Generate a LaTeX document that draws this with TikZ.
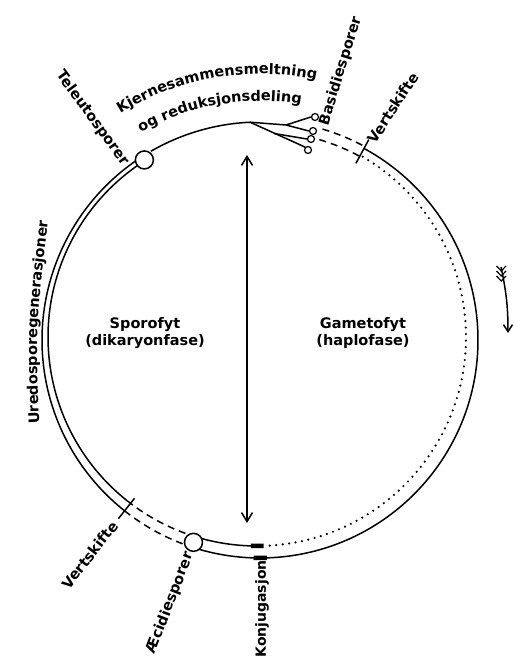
\documentclass[tikz,border=0pt]{standalone}
\usepackage{fontspec}
\setmainfont{DejaVu Sans}
\usetikzlibrary{arrows.meta,decorations.text}
\tikzset{barb/.tip={Straight Barb[length=9pt,width=11pt]},
  sbarb/.tip={Straight Barb[length=7pt,width=9pt]}}
\newcommand{\labfont}{\bfseries\fontsize{14.5}{17}\selectfont}
\begin{document}
\begin{tikzpicture}[x=1pt,y=1pt,
  line/.style={line width=1.5pt},
  dashline/.style={line width=1.5pt, dash pattern=on 7pt off 5pt},
  dotline/.style={line width=2.4pt, line cap=round, dash pattern=on 0pt off 6.5pt},
  spore/.style={circle, draw, line width=1.5pt, fill=white, minimum size=18pt, inner sep=0pt},
  basid/.style={circle, draw, line width=1.2pt, fill=white, minimum size=7pt, inner sep=0pt},
  lab/.style={font=\labfont, inner sep=0pt},
  bar/.style={line width=4.5pt},
]
\useasboundingbox (0,0) rectangle (514,657);
\coordinate (O) at (260,317);
\coordinate (I) at (257,320);

% sporophyte: double line on the left
\draw[line] (O) ++(122:218) arc[start angle=122, end angle=231.6, radius=218];
\draw[line] (I) ++(122:209) arc[start angle=122, end angle=231.6, radius=209];
% host change, lower left
\draw[line] (O) ++(231.6:202) -- ++(231.6:26);
\draw[dashline] (O) ++(231.6:218) arc[start angle=231.6, end angle=251.8, radius=218];
\draw[dashline] (I) ++(231.6:209) arc[start angle=231.6, end angle=251.8, radius=209];
% aecidiospores to conjugation
\draw[line] (O) ++(251.8:218) arc[start angle=251.8, end angle=268.5, radius=218];
\draw[line] (I) ++(251.8:209) arc[start angle=251.8, end angle=268.5, radius=209];
\draw[bar] (O) ++(268.3:218) arc[start angle=268.3, end angle=271.8, radius=218];
\draw[bar] (I) ++(268.3:209) arc[start angle=268.3, end angle=271.8, radius=209];
% gametophyte: solid outer, dotted inner
\draw[line] (O) ++(271.8:218) arc[start angle=271.8, end angle=421.5, radius=218];
\draw[dotline] (I) ++(273.5:209) arc[start angle=273.5, end angle=420.5, radius=209];
% host change, upper right
\draw[line] (O) ++(61.5:201) -- ++(61.5:27);
\draw[dashline] (O) ++(73.5:220) arc[start angle=73.5, end angle=61.5, radius=220];
\draw[dashline] (O) ++(73.5:209) arc[start angle=73.5, end angle=61.5, radius=209];
% single line (karyogamy, meiosis) to basidia
\draw[line] (O) ++(120:218) arc[start angle=120, end angle=92.6, radius=218] coordinate (S);
\coordinate (F1) at (286,532);
\coordinate (G) at (274,523.5);
\node[basid] (c1) at (315,540) {};
\node[basid] (c2) at (313,526) {};
\node[basid] (c3) at (311,518) {};
\node[basid] (c4) at (308,507) {};
\draw[line] (S) -- (F1) -- (c1.west);
\draw[line] (F1) -- (c2.west);
\draw[line] (S) -- (c4.north west);
\draw[line] (G) -- (c3.west);

% spore stages
\path (O) ++(122.7:214) node[spore] (tel) {};
\path (O) ++(251.8:213) node[spore] (aec) {};

% central double arrow
\coordinate (atop) at (247,502);
\coordinate (abot) at (247,134);
\draw[line, barb-barb] (abot) -- (atop);

% direction arrow on the right
\coordinate (rt) at (501,390);
\coordinate (rh) at (508,324);
\draw[line, -sbarb] (rt) to[bend left=6] (rh);
\foreach \k in {0,1,2}
  \draw[line width=1.2pt] (496.5,{391-5*\k}) -- (501.3,{386-5*\k}) -- (506,{391-5*\k});

% labels
\node[lab, rotate=-54] (tl) at (92.5,539) {Teleutosporer};
\node[lab, rotate=73] (bl) at (341,586) {Basidiesporer};
\node[lab, rotate=57] (vt) at (393,549) {Vertskifte};
\node[lab, rotate=52] (vb) at (90,102) {Vertskifte};
\node[lab, rotate=69] (al) at (170.5,54) {Æcidiesporer};
\node[lab, rotate=90, font=\bfseries\fontsize{14}{17}\selectfont] (kl) at (262,48) {Konjugasjon};
\node[lab, align=center] (spo) at (145,324) {Sporofyt\\(dikaryonfase)};
\node[lab, align=center] (gam) at (363,324) {Gametofyt\\(haplofase)};

\path[decorate, decoration={text along path, text align=center,
  text={|\labfont|Kjernesammensmeltning}}]
  (O) ++(125:266) arc[start angle=125, end angle=74.5, radius=266];
\path[decorate, decoration={text along path, text align=center,
  text={|\labfont|og reduksjonsdeling}}]
  (O) ++(125:239) arc[start angle=125, end angle=75, radius=239];
\path[decorate, decoration={text along path, text align=center,
  text={|\labfont|Uredosporegenerasjoner}}]
  (40,217) .. controls (35,327) .. (50,452);
\end{tikzpicture}
\end{document}
